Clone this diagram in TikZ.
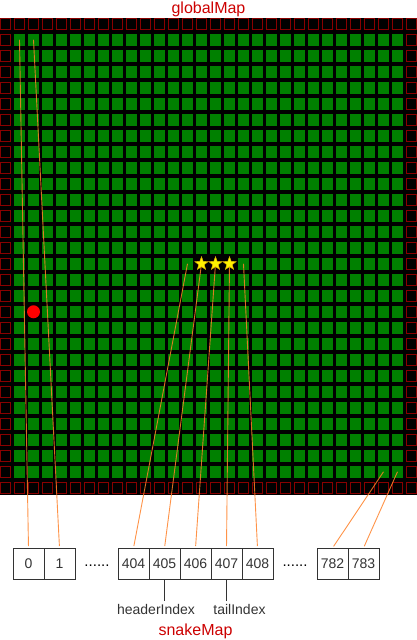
\documentclass[tikz,border=0pt]{standalone}
\usepackage{fontspec}
\setmainfont{Liberation Sans}
\usetikzlibrary{shapes.geometric}
\definecolor{gridgreen}{RGB}{0,128,0}
\definecolor{wallred}{RGB}{136,0,0}
\definecolor{linkorange}{RGB}{255,128,40}
\definecolor{titlered}{RGB}{204,0,0}
\definecolor{inkgray}{RGB}{51,51,51}
\definecolor{staredge}{RGB}{220,180,0}
\begin{document}
\begin{tikzpicture}[x=1pt,y=-1pt,
  wallcell/.style={draw=wallred, fill=black, line width=1pt, minimum width=10pt, minimum height=10.5pt, inner sep=0pt, outer sep=0pt},
  foodcell/.style={fill=gridgreen, minimum width=11pt, minimum height=11.5pt, inner sep=0pt, outer sep=0pt},
  snakestar/.style={star, star points=5, star point ratio=2.4, fill=yellow, draw=staredge, line width=0.5pt, minimum size=14pt, inner sep=0pt},
  apple/.style={circle, fill=red, minimum size=13pt, inner sep=0pt},
  link/.style={draw=linkorange, line width=0.9pt, opacity=0.85, shorten >=2pt},
  arrcell/.style={draw=inkgray, line width=0.8pt, minimum width=31pt, minimum height=31pt, inner sep=0pt, outer sep=0pt, text=inkgray, font=\fontsize{14}{16}\selectfont},
  ellip/.style={text=black, font=\fontsize{15}{17}\selectfont, inner sep=0pt, anchor=base},
  idxlabel/.style={text=inkgray, font=\fontsize{14}{16}\selectfont, inner sep=0pt, anchor=base},
  title/.style={text=titlered, font=\fontsize{16}{18}\selectfont, inner sep=0pt, anchor=base},
  pointer/.style={draw=inkgray, line width=0.8pt}
]
\useasboundingbox (0,0) rectangle (417,640);
\fill[black] (0,18) rectangle (417,495);
% grid cells
\foreach \i in {0,...,29}{
  \foreach \j in {0,...,29}{
    \pgfmathtruncatemacro{\kind}{(\i==0||\i==29||\j==0||\j==29) ? 1 : (((\j==15 && \i>=14 && \i<=16) || (\i==2 && \j==18)) ? 2 : 0)}
    \ifcase\kind
      \node[foodcell] (c-\i-\j) at (14*\i+5.5, 18+16*\j+5.75) {};
    \or
      \node[wallcell] (c-\i-\j) at (14*\i+5.5, 18+16*\j+5.75) {};
    \or
      \coordinate (c-\i-\j) at (14*\i+5.5, 18+16*\j+5.75);
    \fi
  }
}
% titles
\node[title] (gtitle) at (208.5,13) {globalMap};
% array cells
\node[arrcell] (b0) at (28.5,563.5) {0};
\node[arrcell] (b1) at (59.5,563.5) {1};
\node[ellip] (d1) at (97,566) {......};
\node[arrcell] (b404) at (133.5,563.5) {404};
\node[arrcell] (b405) at (164.5,563.5) {405};
\node[arrcell] (b406) at (195.5,563.5) {406};
\node[arrcell] (b407) at (226.5,563.5) {407};
\node[arrcell] (b408) at (257.5,563.5) {408};
\node[ellip] (d2) at (295,566) {......};
\node[arrcell] (b782) at (332.5,563.5) {782};
\node[arrcell] (b783) at (363.5,563.5) {783};
% links
\draw[link] (c-1-1.center) -- (b0.north);
\draw[link] (c-2-1.center) -- (b1.north);
\draw[link] (c-13-15.center) -- (b404.north);
\draw[link] (c-14-15) -- (b405.north);
\draw[link] (c-15-15) -- (b406.north);
\draw[link] (c-16-15) -- (b407.north);
\draw[link] (c-17-15.center) -- (b408.north);
\draw[link] (c-27-28.center) -- (b782.north);
\draw[link] (c-28-28.center) -- (b783.north);
% snake and apple
\node[snakestar] (s1) at (c-14-15) {};
\node[snakestar] (s2) at (c-15-15) {};
\node[snakestar] (s3) at (c-16-15) {};
\node[apple] (food) at (c-2-18) {};
% index labels
\node[idxlabel] (hidx) at (156,614) {headerIndex};
\node[idxlabel] (tidx) at (239.5,614) {tailIndex};
\draw[pointer] (b405.south) -- ++(0,22);
\draw[pointer] (b407.south) -- ++(0,22);
\node[title] (stitle) at (195.5,635) {snakeMap};
\end{tikzpicture}
\end{document}
